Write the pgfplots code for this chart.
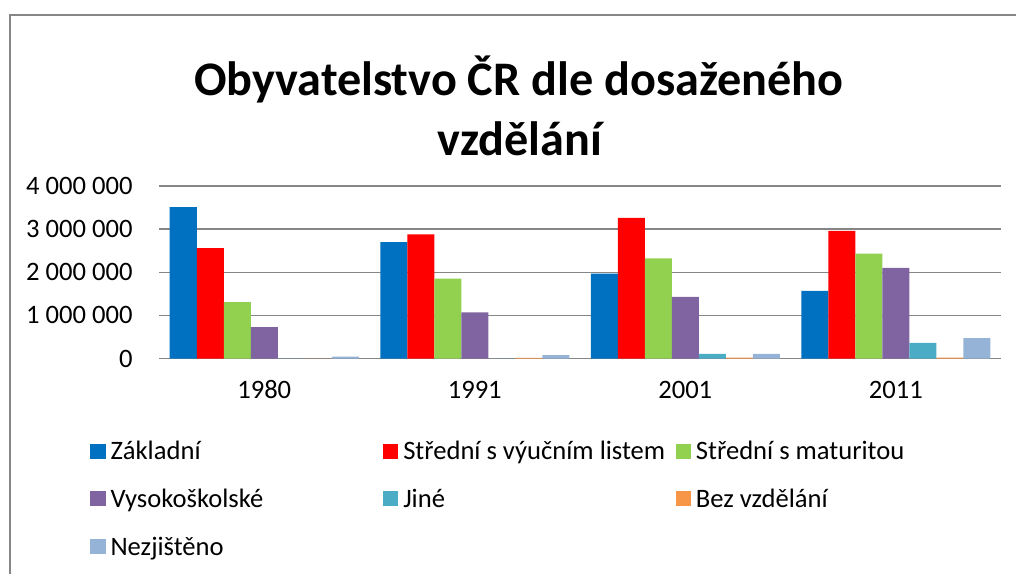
\documentclass[border=0pt]{standalone}
\usepackage{fontspec}
\setmainfont{Carlito}
\usepackage{pgfplots}
\pgfplotsset{compat=1.18}

\definecolor{czakl}{HTML}{0070C0}
\definecolor{cvyuc}{HTML}{FF0000}
\definecolor{cmat}{HTML}{92D050}
\definecolor{cvs}{HTML}{8064A2}
\definecolor{cjine}{HTML}{4BACC6}
\definecolor{cbez}{HTML}{F79646}
\definecolor{cnez}{HTML}{95B3D7}
\definecolor{cgrid}{HTML}{868686}

\begin{document}
\begin{tikzpicture}
% outer frame of the chart (cropped at right and bottom)
\draw[cgrid, line width=0.8pt] (5pt,0pt) -- (5pt,279.5pt) -- (508pt,279.5pt);
\node[font=\fontsize{24.1}{30}\selectfont\bfseries, anchor=base, inner sep=0pt]
  at (259.4pt,239.25pt) {Obyvatelstvo ČR dle dosaženého};
\node[font=\fontsize{24.1}{30}\selectfont\bfseries, anchor=base, inner sep=0pt]
  at (260pt,209pt) {vzdělání};

\begin{axis}[
  at={(79.5pt,107.75pt)}, anchor=south west,
  scale only axis, width=421pt, height=86.25pt,
  ybar=0pt, bar width=13.5pt,
  xmin=-0.5, xmax=3.5, ymin=0, ymax=4000000,
  xtick={0,1,2,3}, xticklabels={1980,1991,2001,2011},
  ytick={0,1000000,2000000,3000000,4000000},
  yticklabels={0,1 000 000,2 000 000,3 000 000,4 000 000},
  scaled y ticks=false,
  major tick length=0pt,
  ymajorgrids, grid style={cgrid, line width=0.75pt},
  axis lines=left,
  y axis line style={draw=none},
  x axis line style={cgrid, line width=0.9pt, -},
  tick label style={font=\fontsize{13.3}{15}\selectfont, text=black},
  yticklabel style={inner sep=0pt, anchor=east, xshift=-13pt},
  xticklabel style={inner sep=0pt, anchor=base, yshift=-20pt},
  /pgf/number format/assume math mode=true,
  legend columns=3,
  legend image code/.code={\fill[#1] (0pt,0.55pt) rectangle (7.6pt,8.05pt);},
  legend style={at={(axis description cs:-0.082,-0.468)}, anchor=north west,
    draw=none, fill=none, inner sep=0pt, row sep=10.9pt,
    font=\fontsize{13.3}{15}\selectfont,
    nodes={inner sep=0pt, anchor=base west, text height=10pt, text depth=3pt},
    /tikz/every odd column/.append style={column sep=2.5pt}},
  legend cell align=left,
]
\addplot[fill=czakl, draw=none] coordinates {(0,3510000)(1,2700000)(2,1970000)(3,1570000)};
\addlegendentry{\makebox[136.25pt][l]{Základní}}
\addplot[fill=cvyuc, draw=none] coordinates {(0,2560000)(1,2880000)(2,3260000)(3,2960000)};
\addlegendentry{\makebox[136.25pt][l]{Střední s výučním listem}}
\addplot[fill=cmat, draw=none] coordinates {(0,1310000)(1,1850000)(2,2320000)(3,2430000)};
\addlegendentry{Střední s maturitou}
\addplot[fill=cvs, draw=none] coordinates {(0,730000)(1,1070000)(2,1430000)(3,2100000)};
\addlegendentry{\makebox[136.25pt][l]{Vysokoškolské}}
\addplot[fill=cjine, draw=none] coordinates {(0,0)(1,0)(2,105000)(3,360000)};
\addlegendentry{\makebox[136.25pt][l]{Jiné}}
\addplot[fill=cbez, draw=none] coordinates {(0,0)(1,15000)(2,20000)(3,20000)};
\addlegendentry{Bez vzdělání}
\addplot[fill=cnez, draw=none] coordinates {(0,45000)(1,80000)(2,105000)(3,470000)};
\addlegendentry{\makebox[136.25pt][l]{Nezjištěno}}
\end{axis}
\pgfresetboundingbox
\path (0pt,0pt) rectangle (508pt,287pt);
\end{tikzpicture}
\end{document}
